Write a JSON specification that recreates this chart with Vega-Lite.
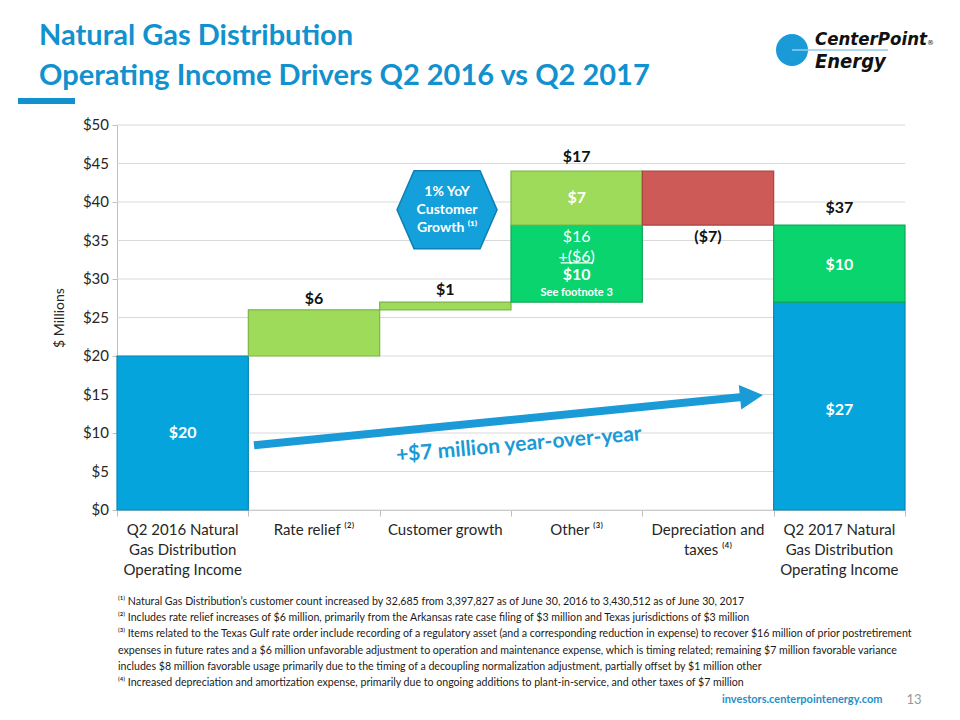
{
  "$schema": "https://vega.github.io/schema/vega-lite/v6.json",
  "width": 788,
  "height": 385,
  "autosize": {"type": "none"},
  "padding": {"left": 117, "top": 125, "right": 55, "bottom": 210},
  "background": "white",
  "config": {"view": {"stroke": null}, "font": "Lato"},
  "datasets": {
    "bars": [
      {"cat": "Q2 2016 Natural Gas Distribution Operating Income", "x0": 0, "x1": 1, "start": 0, "end": 20, "kind": "total"},
      {"cat": "Rate relief", "x0": 1, "x1": 2, "start": 20, "end": 26, "kind": "increase"},
      {"cat": "Customer growth", "x0": 2, "x1": 3, "start": 26, "end": 27, "kind": "increase"},
      {"cat": "Other", "x0": 3, "x1": 4, "start": 27, "end": 37, "kind": "texas"},
      {"cat": "Other", "x0": 3, "x1": 4, "start": 37, "end": 44, "kind": "increase"},
      {"cat": "Depreciation and taxes", "x0": 4, "x1": 5, "start": 44, "end": 37, "kind": "decrease"},
      {"cat": "Q2 2017 Natural Gas Distribution Operating Income", "x0": 5, "x1": 6, "start": 0, "end": 27, "kind": "total"},
      {"cat": "Q2 2017 Natural Gas Distribution Operating Income", "x0": 5, "x1": 6, "start": 27, "end": 37, "kind": "texas"}
    ],
    "yTicks": [
      {"v": 0, "label": "$0"}, {"v": 5, "label": "$5"}, {"v": 10, "label": "$10"}, {"v": 15, "label": "$15"},
      {"v": 20, "label": "$20"}, {"v": 25, "label": "$25"}, {"v": 30, "label": "$30"}, {"v": 35, "label": "$35"},
      {"v": 40, "label": "$40"}, {"v": 45, "label": "$45"}, {"v": 50, "label": "$50"}
    ],
    "categoryLabels": [
      {"xc": 0.5, "label": "Q2 2016 Natural\nGas Distribution\nOperating Income"},
      {"xc": 1.5, "label": "Rate relief ⁽²⁾"},
      {"xc": 2.5, "label": "Customer growth"},
      {"xc": 3.5, "label": "Other ⁽³⁾"},
      {"xc": 4.5, "label": "Depreciation and\ntaxes ⁽⁴⁾"},
      {"xc": 5.5, "label": "Q2 2017 Natural\nGas Distribution\nOperating Income"}
    ],
    "labels": [
      {"xc": 1.5, "y": 27.4, "text": "$6", "place": "above"},
      {"xc": 2.5, "y": 28.6, "text": "$1", "place": "above"},
      {"xc": 3.5, "y": 45.8, "text": "$17", "place": "above"},
      {"xc": 4.5, "y": 35.4, "text": "($7)", "place": "above"},
      {"xc": 5.5, "y": 39.2, "text": "$37", "place": "above"},
      {"xc": 0.5, "y": 10, "text": "$20", "place": "inside"},
      {"xc": 3.5, "y": 40.5, "text": "$7", "place": "inside"},
      {"xc": 3.5, "y": 30.5, "text": "$10", "place": "inside"},
      {"xc": 5.5, "y": 31.8, "text": "$10", "place": "inside"},
      {"xc": 5.5, "y": 13, "text": "$27", "place": "inside"},
      {"xc": 3.5, "y": 35.5, "text": "$16", "place": "detail"},
      {"xc": 3.5, "y": 32.9, "text": "+($6)", "place": "detail"},
      {"xc": 3.5, "y": 28.2, "text": "See footnote 3", "place": "note"}
    ],
    "underline": [{"xa": 3.378, "xb": 3.622, "y": 32.1}],
    "arrow": [{"x": 1.043, "y": 8.4}, {"x": 4.76, "y": 14.68}],
    "arrowHead": [{"x": 4.831, "y": 14.8}],
    "arrowText": [{"x": 3.06, "y": 8.44, "text": "+$7 million year-over-year"}],
    "callout": [{"x": 2.513, "y": 39.0}]
  },
  "layer": [
    {
      "data": {"name": "yTicks"},
      "mark": {"type": "rule", "color": "#D9D9D9", "strokeWidth": 1},
      "encoding": {
        "x": {
          "datum": 0, "type": "quantitative",
          "scale": {"domain": [0, 6], "nice": false, "zero": false},
          "axis": {
            "title": null,
            "labels": false,
            "values": [0, 1, 2, 3, 4, 5, 6],
            "tickSize": 6,
            "tickColor": "#BFBFBF",
            "domainColor": "#BFBFBF",
            "grid": false
          }
        },
        "x2": {"datum": 6},
        "y": {
          "field": "v", "type": "quantitative",
          "scale": {"domain": [0, 50], "nice": false},
          "axis": {
            "title": "$ Millions",
            "titleFontSize": 14,
            "titleFontWeight": "normal",
            "titleColor": "#262626",
            "titlePadding": 45,
            "values": [0, 5, 10, 15, 20, 25, 30, 35, 40, 45, 50],
            "labels": false,
            "grid": false,
            "tickSize": 5,
            "tickColor": "#BFBFBF",
            "domainColor": "#BFBFBF"
          }
        }
      }
    },
    {
      "data": {"name": "yTicks"},
      "mark": {"type": "text", "fontSize": 15, "color": "#262626", "align": "right", "baseline": "middle", "dx": -8},
      "encoding": {
        "x": {"datum": 0, "type": "quantitative"},
        "y": {"field": "v", "type": "quantitative"},
        "text": {"field": "label"}
      }
    },
    {
      "data": {"name": "bars"},
      "mark": {"type": "rect", "strokeWidth": 1.2},
      "encoding": {
        "x": {"field": "x0", "type": "quantitative"},
        "x2": {"field": "x1"},
        "y": {"field": "start", "type": "quantitative"},
        "y2": {"field": "end"},
        "color": {
          "field": "kind", "type": "nominal",
          "scale": {"domain": ["total", "increase", "texas", "decrease"], "range": ["#06A4DC", "#9EDB5B", "#0AD46E", "#CE5A57"]},
          "legend": null
        },
        "stroke": {
          "field": "kind", "type": "nominal",
          "scale": {"domain": ["total", "increase", "texas", "decrease"], "range": ["#0A85B5", "#7DB546", "#12A857", "#A8433F"]},
          "legend": null
        }
      }
    },
    {
      "data": {"name": "categoryLabels"},
      "mark": {"type": "text", "fontSize": 15, "color": "#262626", "baseline": "top", "align": "center", "lineHeight": 20, "lineBreak": "\n"},
      "encoding": {
        "x": {"field": "xc", "type": "quantitative"},
        "y": {"datum": -1.75, "type": "quantitative"},
        "text": {"field": "label"}
      }
    },
    {
      "data": {"name": "labels"},
      "transform": [{"filter": "datum.place === 'above'"}],
      "mark": {"type": "text", "fontSize": 16, "fontWeight": "bold", "color": "#111111", "baseline": "middle"},
      "encoding": {
        "x": {"field": "xc", "type": "quantitative"},
        "y": {"field": "y", "type": "quantitative"},
        "text": {"field": "text"}
      }
    },
    {
      "data": {"name": "labels"},
      "transform": [{"filter": "datum.place === 'inside'"}],
      "mark": {"type": "text", "fontSize": 16, "fontWeight": "bold", "color": "#FFFFFF", "baseline": "middle"},
      "encoding": {
        "x": {"field": "xc", "type": "quantitative"},
        "y": {"field": "y", "type": "quantitative"},
        "text": {"field": "text"}
      }
    },
    {
      "data": {"name": "labels"},
      "transform": [{"filter": "datum.place === 'detail'"}],
      "mark": {"type": "text", "fontSize": 16, "fontWeight": "normal", "color": "#FFFFFF", "baseline": "middle"},
      "encoding": {
        "x": {"field": "xc", "type": "quantitative"},
        "y": {"field": "y", "type": "quantitative"},
        "text": {"field": "text"}
      }
    },
    {
      "data": {"name": "labels"},
      "transform": [{"filter": "datum.place === 'note'"}],
      "mark": {"type": "text", "fontSize": 11, "fontWeight": "bold", "color": "#FFFFFF", "baseline": "middle"},
      "encoding": {
        "x": {"field": "xc", "type": "quantitative"},
        "y": {"field": "y", "type": "quantitative"},
        "text": {"field": "text"}
      }
    },
    {
      "data": {"name": "underline"},
      "mark": {"type": "rule", "strokeWidth": 1.3, "color": "#FFFFFF"},
      "encoding": {
        "x": {"field": "xa", "type": "quantitative"},
        "x2": {"field": "xb"},
        "y": {"field": "y", "type": "quantitative"}
      }
    },
    {
      "data": {"name": "arrow"},
      "mark": {"type": "line", "strokeWidth": 8, "color": "#1A9AD6", "strokeCap": "butt"},
      "encoding": {
        "x": {"field": "x", "type": "quantitative"},
        "y": {"field": "y", "type": "quantitative"}
      }
    },
    {
      "data": {"name": "arrowHead"},
      "mark": {"type": "point", "shape": "M-1,-1.07 L1,0 L-1,1.07 Z", "size": 529, "filled": true, "color": "#1A9AD6", "opacity": 1, "angle": -5.7},
      "encoding": {
        "x": {"field": "x", "type": "quantitative"},
        "y": {"field": "y", "type": "quantitative"}
      }
    },
    {
      "data": {"name": "arrowText"},
      "mark": {"type": "text", "fontSize": 21, "fontWeight": "bold", "color": "#1A9AD6", "angle": -5.1, "baseline": "middle", "align": "center"},
      "encoding": {
        "x": {"field": "x", "type": "quantitative"},
        "y": {"field": "y", "type": "quantitative"},
        "text": {"field": "text"}
      }
    },
    {
      "data": {"name": "callout"},
      "mark": {"type": "point", "shape": "M-1,0 L-0.66,-0.78 L0.66,-0.78 L1,0 L0.66,0.78 L-0.66,0.78 Z", "size": 10000, "filled": true, "fill": "#14A0DA", "stroke": "#0E7FB2", "strokeWidth": 1.5, "opacity": 1},
      "encoding": {
        "x": {"field": "x", "type": "quantitative"},
        "y": {"field": "y", "type": "quantitative"}
      }
    },
    {
      "data": {"name": "callout"},
      "mark": {"type": "text", "text": ["1% YoY", "Customer", "Growth ⁽¹⁾"], "lineHeight": 18, "fontSize": 14, "fontWeight": "bold", "color": "#FFFFFF", "baseline": "middle", "align": "center", "dy": -18},
      "encoding": {
        "x": {"field": "x", "type": "quantitative"},
        "y": {"field": "y", "type": "quantitative"}
      }
    },
    {
      "data": {"values": [{}]},
      "mark": {"type": "text", "text": "Natural Gas Distribution", "fontSize": 29, "fontWeight": "bold", "color": "#1191CE", "align": "left", "baseline": "alphabetic"},
      "encoding": {"x": {"value": -78}, "y": {"value": -80}}
    },
    {
      "data": {"values": [{}]},
      "mark": {"type": "text", "text": "Operating Income Drivers Q2 2016 vs Q2 2017", "fontSize": 29, "fontWeight": "bold", "color": "#1191CE", "align": "left", "baseline": "alphabetic"},
      "encoding": {"x": {"value": -78}, "y": {"value": -40}}
    },
    {
      "data": {"values": [{}]},
      "mark": {"type": "rule", "color": "#1191CE", "strokeWidth": 6},
      "encoding": {"x": {"value": -99}, "x2": {"value": -42}, "y": {"value": -24}}
    },
    {
      "data": {"values": [{}]},
      "mark": {"type": "point", "shape": "circle", "size": 1024, "filled": true, "color": "#1A9BD7", "opacity": 1},
      "encoding": {"x": {"value": 675}, "y": {"value": -75}}
    },
    {
      "data": {"values": [{}]},
      "mark": {"type": "rule", "color": "#8FCDEB", "strokeWidth": 1.5},
      "encoding": {"x": {"value": 675}, "x2": {"value": 771}, "y": {"value": -75}}
    },
    {
      "data": {"values": [{}]},
      "mark": {"type": "text", "text": "CenterPoint", "font": "DejaVu Sans Condensed, DejaVu Sans, sans-serif", "fontSize": 18.5, "fontWeight": "bold", "fontStyle": "italic", "color": "#111111", "align": "left", "baseline": "alphabetic"},
      "encoding": {"x": {"value": 698}, "y": {"value": -80}}
    },
    {
      "data": {"values": [{}]},
      "mark": {"type": "text", "text": "®", "font": "DejaVu Sans, sans-serif", "fontSize": 7, "color": "#111111", "align": "left", "baseline": "alphabetic"},
      "encoding": {"x": {"value": 810}, "y": {"value": -80}}
    },
    {
      "data": {"values": [{}]},
      "mark": {"type": "text", "text": "Energy", "font": "DejaVu Sans Condensed, DejaVu Sans, sans-serif", "fontSize": 20, "fontWeight": "bold", "fontStyle": "italic", "color": "#111111", "align": "left", "baseline": "alphabetic"},
      "encoding": {"x": {"value": 698}, "y": {"value": -57}}
    },
    {
      "data": {"values": [{}]},
      "mark": {
        "type": "text",
        "text": [
          "⁽¹⁾ Natural Gas Distribution’s customer count increased by 32,685 from 3,397,827 as of June 30, 2016 to 3,430,512 as of June 30, 2017",
          "⁽²⁾ Includes rate relief increases of $6 million, primarily from the Arkansas rate case filing of $3 million and Texas jurisdictions of $3 million",
          "⁽³⁾ Items related to the Texas Gulf rate order include recording of a regulatory asset (and a corresponding reduction in expense) to recover $16 million of prior postretirement",
          "expenses in future rates and a $6 million unfavorable adjustment to operation and maintenance expense, which is timing related; remaining $7 million favorable variance",
          "includes $8 million favorable usage primarily due to the timing of a decoupling normalization adjustment, partially offset by $1 million other",
          "⁽⁴⁾ Increased depreciation and amortization expense, primarily due to ongoing additions to plant-in-service, and other taxes of $7 million"
        ],
        "font": "Lato",
        "fontSize": 10.6,
        "lineHeight": 16.2,
        "color": "#1A1A1A",
        "align": "left",
        "baseline": "middle"
      },
      "encoding": {"x": {"value": 1}, "y": {"value": 477}}
    },
    {
      "data": {"values": [{}]},
      "mark": {"type": "text", "text": "investors.centerpointenergy.com", "fontSize": 11, "fontWeight": "bold", "color": "#1F8FC9", "align": "left", "baseline": "middle"},
      "encoding": {"x": {"value": 605}, "y": {"value": 575}}
    },
    {
      "data": {"values": [{}]},
      "mark": {"type": "text", "text": "13", "fontSize": 13, "color": "#999999", "align": "center", "baseline": "middle"},
      "encoding": {"x": {"value": 797}, "y": {"value": 575}}
    }
  ]
}
